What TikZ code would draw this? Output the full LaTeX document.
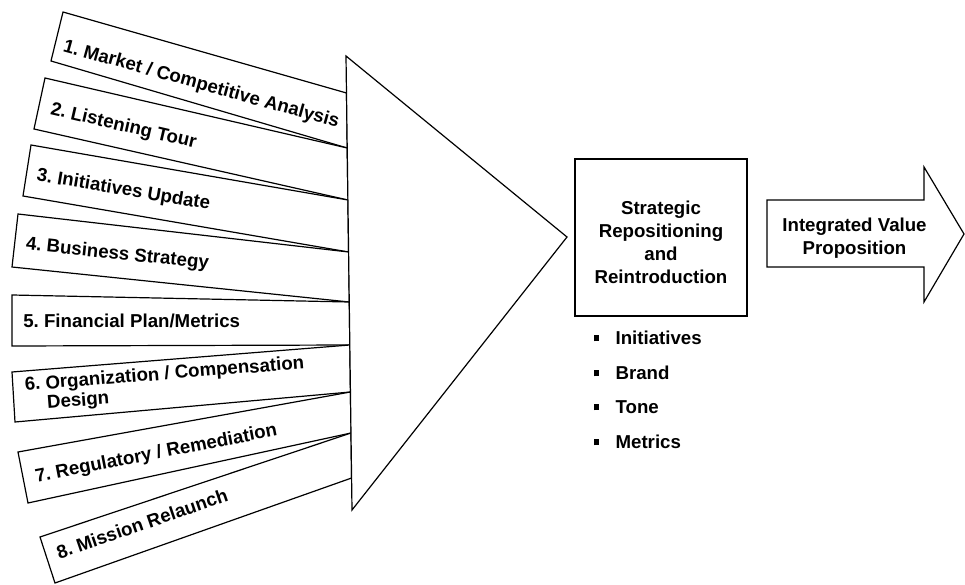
\documentclass[tikz,border=0pt]{standalone}
\usepackage{fontspec}
\setmainfont{Liberation Sans}
\frenchspacing
\begin{document}
\begin{tikzpicture}[x=0.75pt,y=-0.75pt,
  shp/.style={draw=black, fill=white, line width=0.9pt, line join=miter},
  lbl/.style={font=\bfseries\fontsize{14}{17.25}\selectfont, inner sep=0pt, anchor=west, text height=10pt, text depth=0pt},
  mlbl/.style={font=\bfseries\fontsize{14}{17.25}\selectfont, inner sep=0pt, align=center},
  bul/.style={lbl, anchor=west}
]
\useasboundingbox (0,0) rectangle (965,585);
% banner corners
\coordinate (b1tl) at (63,12);  \coordinate (b1bl) at (51,61);
\coordinate (b1tr) at (346.5,93); \coordinate (b1br) at (347.2,148);
\coordinate (b2tl) at (45,78);  \coordinate (b2bl) at (34,129);
\coordinate (b2tr) at (347.2,148); \coordinate (b2br) at (347.9,200);
\coordinate (b3tl) at (31,145); \coordinate (b3bl) at (23,196);
\coordinate (b3tr) at (347.9,200); \coordinate (b3br) at (348.6,252);
\coordinate (b4tl) at (18,214); \coordinate (b4bl) at (12,267);
\coordinate (b4tr) at (348.6,252); \coordinate (b4br) at (349.3,302);
\coordinate (b5tl) at (12,295); \coordinate (b5bl) at (12,346);
\coordinate (b5tr) at (349.3,302); \coordinate (b5br) at (349.8,345);
\coordinate (b6tl) at (12,372); \coordinate (b6bl) at (15,422);
\coordinate (b6tr) at (349.8,345); \coordinate (b6br) at (350.4,392);
\coordinate (b7tl) at (18,452); \coordinate (b7bl) at (28,503);
\coordinate (b7tr) at (350.4,392); \coordinate (b7br) at (351,433);
\coordinate (b8tl) at (40,537); \coordinate (b8bl) at (55,583);
\coordinate (b8tr) at (351,433); \coordinate (b8br) at (351.6,478);
\foreach \i in {1,...,8}{
  \draw[shp] (b\i tl) -- (b\i tr) -- (b\i br) -- (b\i bl) -- cycle;
}
% banner labels
\node[lbl, rotate=-15.5] (t1) at (64,45) {1. Market / Competitive Analysis};
\node[lbl, rotate=-13] (t2) at (51,108) {2. Listening Tour};
\node[lbl, rotate=-9.5] (t3) at (37,174) {3. Initiatives Update};
\node[lbl, rotate=-6] (t4) at (26,243) {4. Business Strategy};
\node[lbl, rotate=0] (t5) at (23,321) {5. Financial Plan/Metrics};
\node[font=\bfseries\fontsize{14}{17.25}\selectfont, inner sep=0pt, align=left, anchor=north west, rotate=4.5] (t6) at (24,377) {6. Organization / Compensation\\[-2.5pt]\hphantom{6.~}Design};
\node[lbl, rotate=11] (t7) at (35,476) {7. Regulatory / Remediation};
\node[lbl, rotate=19] (t8) at (57,553) {8. Mission Relaunch};
% funnel triangle
\coordinate (ftop) at (346,56);
\coordinate (fbot) at (352,510);
\coordinate (fapex) at (567,237);
\draw[shp] (ftop) -- (fapex) -- (fbot) -- cycle;
% box
\node[draw=black, line width=0.9pt, minimum width=129pt, minimum height=117.75pt, inner sep=0pt] (srbox) at (661,237.5) {};
\node[mlbl] (srtext) at (661,242) {Strategic\\Repositioning\\and\\Reintroduction};
% bullets
\node[bul] (i1) at (594,338) {\rule[2.5pt]{3.5pt}{5pt}\hspace{12.5pt}Initiatives};
\node[bul] (i2) at (594,373) {\rule[2.5pt]{3.5pt}{5pt}\hspace{12.5pt}Brand};
\node[bul] (i3) at (594,407) {\rule[2.5pt]{3.5pt}{5pt}\hspace{12.5pt}Tone};
\node[bul] (i4) at (594,442) {\rule[2.5pt]{3.5pt}{5pt}\hspace{12.5pt}Metrics};
% arrow
\coordinate (a1) at (767,200); \coordinate (a2) at (924,200);
\coordinate (a3) at (924,167); \coordinate (a4) at (964,234);
\coordinate (a5) at (924,302); \coordinate (a6) at (924,267);
\coordinate (a7) at (767,267);
\draw[shp] (a1) -- (a2) -- (a3) -- (a4) -- (a5) -- (a6) -- (a7) -- cycle;
\node[mlbl] (ivp) at (854.5,238.5) {Integrated Value\\Proposition};
\end{tikzpicture}
\end{document}
